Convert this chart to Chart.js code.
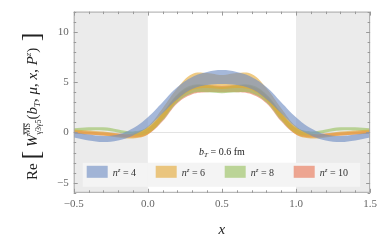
<!DOCTYPE html>
<html>
<head>
<meta charset="utf-8">
<script src="https://cdn.jsdelivr.net/npm/chart.js@4.4.1/dist/chart.umd.min.js"></script>
<style>
  html, body { margin: 0; padding: 0; background: #fff; }
  #wrap { width: 382px; height: 243px; }
</style>
</head>
<body>
<div id="wrap"><canvas id="wfn"></canvas></div>
<script>
// x positions of the curves
var xs = [-0.5, -0.4, -0.3, -0.2, -0.1, 0.0, 0.1, 0.2, 0.3, 0.4, 0.5,
          0.6, 0.7, 0.8, 0.9, 1.0, 1.1, 1.2, 1.3, 1.4, 1.5];

// bands: upper / lower edges for each n^z
var n4Hi  = [0.0, -0.2, -0.35, -0.2, 0.4, 1.5, 3.0, 4.5, 5.5, 6.0, 6.2, 6.0, 5.5, 4.5, 3.0, 1.5, 0.4, -0.2, -0.35, -0.2, 0.0];
var n4Lo  = [-0.5, -0.8, -0.95, -0.8, -0.3, 0.5, 1.9, 3.3, 4.3, 4.7, 4.8, 4.7, 4.3, 3.3, 1.9, 0.5, -0.3, -0.8, -0.95, -0.8, -0.5];
var n6Hi  = [0.3, 0.2, 0.1, -0.1, -0.1, 0.6, 2.4, 4.4, 5.8, 5.9, 5.7, 5.9, 5.8, 4.4, 2.4, 0.6, -0.1, -0.1, 0.1, 0.2, 0.3];
var n6Lo  = [-0.1, -0.2, -0.3, -0.5, -0.6, -0.2, 1.3, 3.2, 4.2, 4.4, 4.3, 4.4, 4.2, 3.2, 1.3, -0.2, -0.6, -0.5, -0.3, -0.2, -0.1];
var n8Hi  = [0.4, 0.5, 0.5, 0.3, 0.1, 0.5, 2.0, 3.8, 4.7, 4.7, 4.5, 4.7, 4.7, 3.8, 2.0, 0.5, 0.1, 0.3, 0.5, 0.5, 0.4];
var n8Lo  = [0.1, 0.2, 0.2, 0.0, -0.3, -0.1, 1.2, 3.0, 3.9, 4.0, 3.9, 4.0, 3.9, 3.0, 1.2, -0.1, -0.3, 0.0, 0.2, 0.2, 0.1];
var n10Hi = [0.2, 0.1, 0.0, -0.1, -0.2, 0.4, 1.9, 3.7, 4.6, 4.7, 4.6, 4.7, 4.6, 3.7, 1.9, 0.4, -0.2, -0.1, 0.0, 0.1, 0.2];
var n10Lo = [-0.1, -0.2, -0.3, -0.4, -0.5, -0.2, 1.1, 2.9, 3.8, 4.0, 4.0, 4.0, 3.8, 2.9, 1.1, -0.2, -0.5, -0.4, -0.3, -0.2, -0.1];

var nzLabels = ['4', '6', '8', '10'];
var xTicks = [-0.5, 0.0, 0.5, 1.0, 1.5];
var yTicks = [-5, 0, 5, 10];

var bandColors = ['rgba(110,140,196,0.62)', 'rgba(228,166,48,0.6)', 'rgba(150,192,90,0.6)', 'rgba(232,112,78,0.6)'];
var serif = "'Liberation Serif', 'DejaVu Serif', serif";

function pts(ys) {
  return xs.map(function (x, i) { return { x: x, y: ys[i] }; });
}

function band(idx, hi, lo) {
  return [
    { label: nzLabels[idx], data: pts(hi), fill: '+1', backgroundColor: bandColors[idx],
      borderWidth: 0, pointRadius: 0, tension: 0.4 },
    { label: '', data: pts(lo), fill: false, borderWidth: 0, pointRadius: 0, tension: 0.4 }
  ];
}

var datasets = [].concat(band(0, n4Hi, n4Lo), band(1, n6Hi, n6Lo),
                         band(2, n8Hi, n8Lo), band(3, n10Hi, n10Lo));

function minus(s) { return String(s).replace('-', '\u2212'); }

// draw pieces of text one after another, returns width
function richText(ctx, parts, x, y, measureOnly) {
  var cx = x;
  parts.forEach(function (p) {
    ctx.font = p.f;
    var w = ctx.measureText(p.t).width;
    if (!measureOnly) {
      ctx.fillText(p.t, cx + (p.dx || 0), y + (p.dy || 0));
      if (p.over) {
        ctx.fillRect(cx + (p.dx || 0), y + (p.dy || 0) - p.over, w, 0.8);
      }
    }
    cx += (p.adv !== undefined ? p.adv : w);
  });
  return cx - x;
}

var decor = {
  id: 'decor',
  beforeDatasetsDraw: function (chart) {
    var ctx = chart.ctx, a = chart.chartArea, xs_ = chart.scales.x, ys_ = chart.scales.y;
    ctx.save();
    ctx.fillStyle = '#ebebeb';
    var x0 = xs_.getPixelForValue(0), x1 = xs_.getPixelForValue(1);
    ctx.fillRect(a.left, a.top, x0 - a.left, a.bottom - a.top);
    ctx.fillRect(x1, a.top, a.right - x1, a.bottom - a.top);
    // faint zero line
    ctx.strokeStyle = 'rgba(200,200,200,0.5)';
    ctx.lineWidth = 1;
    var yz = Math.round(ys_.getPixelForValue(0)) + 0.5;
    ctx.beginPath(); ctx.moveTo(a.left, yz); ctx.lineTo(a.right, yz); ctx.stroke();
    ctx.restore();
  },
  afterDatasetsDraw: function (chart) {
    var ctx = chart.ctx, a = chart.chartArea, sx = chart.scales.x, sy = chart.scales.y;
    ctx.save();
    // frame
    ctx.strokeStyle = '#a8a8a8';
    ctx.lineWidth = 1;
    ctx.strokeRect(a.left + 0.5, a.top + 0.5, a.right - a.left - 1, a.bottom - a.top - 1);
    // inward ticks
    ctx.strokeStyle = '#999';
    ctx.beginPath();
    for (var i = -5; i <= 15; i++) {
      var px = Math.round(sx.getPixelForValue(i / 10)) + 0.5;
      var len = (i % 5 === 0) ? 4 : 2.5;
      ctx.moveTo(px, a.bottom); ctx.lineTo(px, a.bottom - len);
      ctx.moveTo(px, a.top); ctx.lineTo(px, a.top + len);
    }
    for (var v = -6; v <= 12; v++) {
      var py = Math.round(sy.getPixelForValue(v)) + 0.5;
      var l2 = (v % 5 === 0) ? 4 : 2.5;
      ctx.moveTo(a.left, py); ctx.lineTo(a.left + l2, py);
      ctx.moveTo(a.right, py); ctx.lineTo(a.right - l2, py);
    }
    ctx.stroke();

    // legend box inside plot
    var lx = a.left + 9, ly = a.bottom - 30, lw = a.right - a.left - 19, lh = 24;
    ctx.fillStyle = 'rgba(244,244,244,0.97)';
    ctx.fillRect(lx, ly, lw, lh);
    ctx.textBaseline = 'alphabetic';
    for (var k = 0; k < 4; k++) {
      var bx = lx + 4 + k * 69;
      ctx.fillStyle = bandColors[k];
      ctx.fillRect(bx, ly + 3, 21, 12);
      ctx.fillStyle = '#333';
      richText(ctx, [
        { t: 'n', f: 'italic 10px ' + serif },
        { t: 'z', f: 'italic 7px ' + serif, dy: -4 },
        { t: ' = ' + nzLabels[k], f: '10px ' + serif }
      ], bx + 26, ly + 13);
    }

    // b_T annotation
    var ax = sx.getPixelForValue(0.5), ay = sy.getPixelForValue(-1.9);
    var parts = [
      { t: 'b', f: 'italic 10px ' + serif },
      { t: 'T', f: 'italic 7px ' + serif, dy: 2 },
      { t: ' = 0.6 fm', f: '10px ' + serif }
    ];
    ctx.fillStyle = '#222';
    var w = richText(ctx, parts, 0, 0, true);
    richText(ctx, parts, ax - w / 2, ay + 3);

    // x title
    ctx.font = 'italic 15px ' + serif;
    ctx.textAlign = 'center';
    ctx.fillText('x', sx.getPixelForValue(0.5), 234);
    ctx.textAlign = 'left';

    // y title, rotated
    var yParts = [
      { t: 'Re ', f: '15px ' + serif },
      { t: '[', f: '26px ' + serif, dy: 2 },
      { t: ' W', f: 'italic 15px ' + serif },
      { t: 'MS', f: '8px ' + serif, dy: -7, over: 6.5, adv: 0 },
      { t: '\u03b33\u03b35', f: '8px ' + serif, dy: 4 },
      { t: '(', f: '15px ' + serif },
      { t: 'b', f: 'italic 15px ' + serif },
      { t: 'T', f: 'italic 9px ' + serif, dy: 3 },
      { t: ', ', f: '15px ' + serif },
      { t: '\u03bc', f: 'italic 15px ' + serif },
      { t: ', ', f: '15px ' + serif },
      { t: 'x', f: 'italic 15px ' + serif },
      { t: ', ', f: '15px ' + serif },
      { t: 'P', f: 'italic 15px ' + serif },
      { t: 'z', f: 'italic 9px ' + serif, dy: -6 },
      { t: ')', f: '15px ' + serif },
      { t: ' ]', f: '26px ' + serif, dy: 2 }
    ];
    var tw = richText(ctx, yParts, 0, 0, true);
    ctx.translate(37, (a.top + a.bottom) / 2 + 4);
    ctx.rotate(-Math.PI / 2);
    ctx.fillStyle = '#222';
    richText(ctx, yParts, -tw / 2, 0);
    ctx.restore();
  }
};

new Chart(document.getElementById('wfn').getContext('2d'), {
  type: 'line',
  data: { datasets: datasets },
  options: {
    responsive: true,
    maintainAspectRatio: false,
    animation: false,
    layout: { padding: { left: 52, right: 11, top: 10, bottom: 27 } },
    plugins: { legend: { display: false }, tooltip: { enabled: false } },
    scales: {
      x: {
        type: 'linear', min: -0.5, max: 1.5,
        afterBuildTicks: function (s) { s.ticks = xTicks.map(function (v) { return { value: v }; }); },
        ticks: { color: '#666', font: { family: serif, size: 11 }, padding: 5, maxRotation: 0,
                 callback: function (v) { return minus(Number(v).toFixed(1)); } },
        grid: { display: false, drawTicks: false },
        border: { display: false }
      },
      y: {
        min: -6, max: 12,
        afterBuildTicks: function (s) { s.ticks = yTicks.map(function (v) { return { value: v }; }); },
        ticks: { color: '#666', font: { family: serif, size: 11 }, padding: 5,
                 callback: function (v) { return minus(v); } },
        grid: { display: false, drawTicks: false },
        border: { display: false }
      }
    }
  },
  plugins: [decor]
});
</script>
</body>
</html>
